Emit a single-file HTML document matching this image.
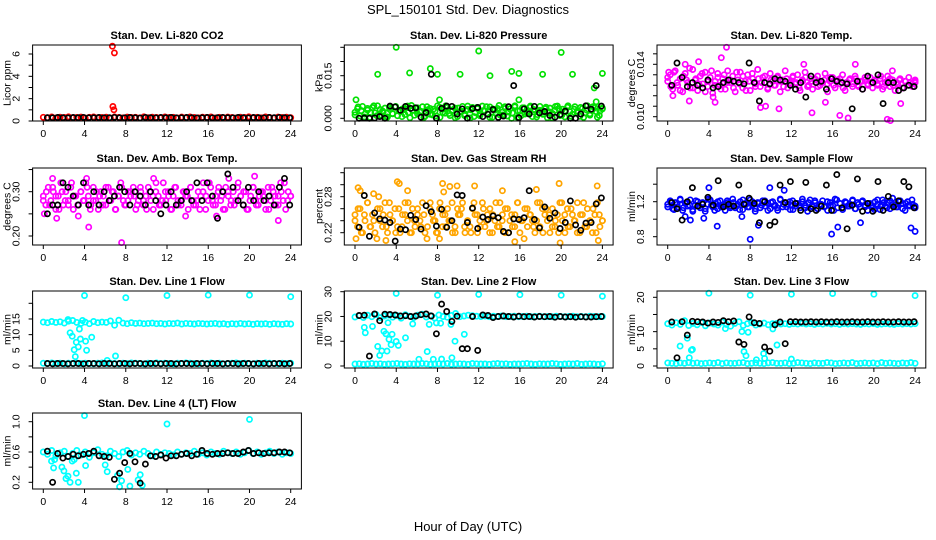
<!DOCTYPE html>
<html><head><meta charset="utf-8">
<style>
html,body{margin:0;padding:0;background:#fff;}
svg{display:block;font-family:"Liberation Sans",Arial,sans-serif;}
</style></head>
<body>
<svg id="chart" width="936" height="540" viewBox="0 0 936 540">
<rect width="936" height="540" fill="#fff"/>
<text x="468" y="14" font-size="13" text-anchor="middle">SPL_150101  Std. Dev. Diagnostics</text>
<text x="468" y="531" font-size="13" text-anchor="middle">Hour of Day (UTC)</text>
</svg>
<script>
// ---- data ----
const co2Red=[.33,.30,.36,.28,.34,.31,.38,.29,.32,.35,.27,.33,.37,.30,.31,.34,.28,.36,.32,.29,.35,.31,.33,.27,.38,.30,.34,.32,.29,.36,.31,.33,.28,.35,.30,.37,.32,.29,.34,.31,.36,.28,.33,.30,.35,.32,.27,.34,.31,.38,.30,.33,.29,.36,.32,.28,.35,.31,.34,.30];
const co2OutT=[6.7,6.9,6.75,6.85];
const co2OutV=[6.7,6.1,1.3,1.0];
const co2Blk=[.30,.29,.31,.30,.28,.31,.30,.32,.29,.30,.31,.29,.30,.32,.30,.29,.31,.30,.28,.31,.30,.29,.32,.30,.31,.29,.30,.31,.30,.28,.30,.31,.29,.30,.32,.30,.29,.31,.30,.28,.31,.30,.29,.31,.30,.32,.30,.29];

const pressGreen=[.0021,.0034,.0008,.0042,.0015,.0029,.0003,.0038,.0019,.0044,.0011,.0026,.0036,.0005,.0031,.0017,.0040,.0009,.0024,.0033,.0013,.0043,.0002,.0028,.0037,.0016,.0022,.0041,.0007,.0030,.0035,.0012,.0025,.0044,.0004,.0032,.0018,.0039,.0010,.0027,.0036,.0006,.0023,.0042,.0014,.0031,.0001,.0038,.0020,.0034,.0009,.0043,.0026,.0016,.0040,.0004,.0029,.0035,.0012,.0022,.0041,.0008,.0033,.0019,.0044,.0003,.0027,.0037,.0015,.0024,.0039,.0006,.0030,.0013,.0042,.0021,.0034,.0002,.0036,.0017,.0028,.0043,.0010,.0032,.0005,.0039,.0023,.0014,.0041,.0026,.0007,.0035,.0019,.0044,.0011,.0030,.0038,.0004,.0025,.0033];
const pressGreen2=[.0012,.0040,.0027,.0005,.0035,.0019,.0044,.0009,.0031,.0023,.0001,.0038,.0016,.0042,.0028,.0006,.0034,.0020,.0045,.0011,.0037,.0025,.0003,.0041,.0014,.0032,.0008,.0039,.0021,.0044,.0017,.0029,.0002,.0036,.0024,.0010,.0043,.0030,.0006,.0038,.0015,.0027,.0041,.0004,.0033,.0019,.0045,.0012,.0035,.0022,.0000,.0040,.0026,.0009,.0037,.0018,.0043,.0031,.0005,.0028,.0014,.0039,.0023,.0001,.0042,.0034,.0011,.0026,.0044,.0007,.0032,.0020,.0038,.0003,.0029,.0016,.0041,.0024,.0010,.0036];
const pressOutT=[0.1,2.2,4.0,5.3,7.3,8.0,8.2,10.2,12.0,13.1,15.2,15.9,15.9,18.2,20.0,21.1,23.2,24.0,23.4];
const pressOutV=[.0065,.0155,.0250,.0160,.0175,.0155,.0065,.0155,.0237,.0150,.0165,.0158,.0065,.0155,.0232,.0155,.0107,.0158,.0058];
const pressBlk=[.0000,.0001,.0000,.0001,.0006,.0000,.0043,.0040,.0028,.0042,.0035,.0037,.0004,.0020,.0155,.0000,.0035,.0043,.0042,.0015,.0033,.0000,.0034,.0038,.0006,.0014,.0031,.0003,.0008,.0041,.0115,.0002,.0033,.0015,.0042,.0019,.0024,.0010,.0004,.0013,.0025,.0000,.0000,.0015,.0044,.0032,.0115,.0043];

const tempMag=[.0127,.0132,.0121,.0135,.0124,.0129,.0119,.0133,.0126,.0122,.0136,.0128,.0120,.0131,.0125,.0134,.0123,.0130,.0118,.0127,.0133,.0124,.0129,.0121,.0135,.0126,.0131,.0119,.0128,.0134,.0122,.0127,.0132,.0120,.0129,.0125,.0136,.0123,.0130,.0126,.0121,.0133,.0127,.0124,.0131,.0119,.0128,.0135,.0122,.0126,.0130,.0125,.0132,.0120,.0127,.0134,.0123,.0129,.0121,.0128,.0131,.0124,.0126,.0133,.0119,.0127,.0130,.0122,.0128,.0125,.0132,.0120,.0126,.0129,.0123,.0131,.0124,.0127,.0121,.0128,.0125,.0130,.0122,.0127,.0124,.0129,.0121,.0126,.0131,.0123,.0128,.0120,.0125,.0129,.0122,.0127,.0124,.0126,.0123,.0128];
const tempMag2=[.0130,.0123,.0134,.0126,.0120,.0131,.0128,.0137,.0122,.0129,.0125,.0133,.0119,.0127,.0135,.0124,.0130,.0121,.0132,.0126,.0128,.0122,.0134,.0125,.0131,.0120,.0127,.0133,.0123,.0129,.0126,.0131,.0122,.0128,.0124,.0130,.0127,.0123,.0129,.0125,.0131,.0126,.0122,.0128,.0130,.0124,.0127,.0129,.0123,.0126,.0128,.0125,.0130,.0124,.0127,.0129,.0122,.0126,.0128,.0125,.0129,.0123,.0127,.0130,.0124,.0126,.0128,.0125,.0131,.0123,.0127,.0129,.0124,.0126,.0128,.0122,.0127,.0130,.0125,.0126];
const tempOutT=[0.1,0.5,1.7,2.1,3.0,4.4,4.6,5.2,5.7,9.0,9.5,10.8,13.2,14.0,15.3,16.7,17.5,18.2,21.3,21.6,22.6,21.8,24.0];
const tempOutV=[.0134,.0116,.0140,.0112,.0142,.0115,.0111,.0145,.0153,.0107,.0108,.0106,.0140,.0103,.0111,.0101,.0099,.0140,.0098,.0097,.0110,.0135,.0127];
const tempBlk=[.0124,.0141,.0130,.0123,.0126,.0124,.0122,.0128,.0122,.0123,.0126,.0128,.0127,.0126,.0125,.0141,.0126,.0112,.0126,.0125,.0129,.0128,.0127,.0124,.0121,.0126,.0115,.0131,.0126,.0127,.0121,.0129,.0127,.0126,.0125,.0106,.0127,.0121,.0131,.0126,.0132,.0110,.0126,.0126,.0120,.0122,.0124,.0123];

const ambMag=[.29,.27,.31,.28,.30,.26,.29,.32,.27,.30,.28,.31,.26,.29,.27,.30,.28,.32,.29,.27,.31,.28,.26,.30,.29,.27,.31,.28,.30,.26,.29,.32,.28,.27,.30,.29,.31,.26,.28,.30,.27,.29,.31,.28,.26,.30,.29,.27,.32,.28,.30,.26,.29,.31,.27,.28,.30,.29,.26,.31,.28,.27,.30,.29,.32,.26,.28,.31,.27,.29,.30,.28,.26,.31,.29,.27,.30,.28,.32,.29,.27,.30,.26,.29,.31,.28,.27,.30,.29,.26,.31,.28,.30,.27,.29,.32,.28,.26,.30,.29];
const ambMag2=[.28,.30,.27,.31,.29,.26,.30,.28,.27,.32,.29,.27,.30,.28,.31,.26,.28,.30,.29,.27,.31,.28,.30,.26,.29,.31,.27,.28,.30,.29,.27,.31,.28,.26,.30,.29,.32,.27,.28,.30,.29,.26,.31,.28,.27,.30,.29,.31,.27,.28,.26,.30,.29,.32,.28,.27,.31,.29,.26,.30,.28,.27,.31,.29,.30,.26,.28,.31,.27,.29,.30,.28,.26,.31,.29,.27,.30,.32,.28,.29];
const ambOutT=[0.1,0.9,1.3,3.4,4.4,7.6,13.8,16.8,20.5,22.8,4.2,10.7,18.0];
const ambOutV=[.25,.33,.24,.245,.22,.185,.245,.245,.335,.235,.33,.33,.33];
const ambBlk=[.25,.27,.27,.32,.31,.29,.27,.32,.27,.30,.27,.30,.28,.29,.31,.30,.27,.30,.29,.27,.30,.28,.25,.27,.30,.27,.28,.30,.28,.32,.28,.32,.29,.24,.30,.34,.31,.28,.27,.31,.28,.30,.28,.29,.27,.31,.33,.27];

const rhOr=[.25,.23,.26,.22,.24,.27,.23,.25,.22,.26,.24,.23,.27,.22,.25,.24,.26,.23,.22,.25,.27,.24,.22,.26,.23,.25,.24,.27,.22,.23,.26,.25,.24,.22,.27,.23,.25,.26,.24,.22,.23,.26,.25,.27,.22,.24,.23,.26,.25,.22,.24,.27,.23,.25,.26,.22,.24,.23,.27,.25,.22,.26,.24,.23,.25,.27,.22,.24,.26,.23,.25,.24,.22,.27,.23,.26,.25,.24,.22,.26,.23,.25,.27,.24,.22,.26,.23,.25,.24,.27,.22,.25,.23,.26,.24,.22,.25,.27,.23,.24];
const rhOr2=[.24,.26,.22,.25,.27,.23,.24,.21,.26,.25,.23,.27,.24,.22,.26,.23,.25,.27,.22,.24,.26,.23,.25,.21,.27,.24,.22,.26,.25,.23,.24,.27,.22,.25,.26,.23,.24,.22,.27,.25,.23,.26,.24,.22,.25,.27,.23,.24,.26,.22,.25,.23,.27,.24,.21,.26,.25,.23,.24,.27,.22,.26,.25,.23,.24,.22,.27,.25,.23,.26,.24,.22,.25,.27,.23,.24,.26,.22,.25,.24];
const rhOutT=[0.3,0.5,1.8,2.3,4.1,4.3,5.1,8.5,8.6,9.2,9.9,11.6,14.3,17.6,19.8,23.5,0.1,3.0,8.2,15.5,19.9,23.6];
const rhOutV=[.295,.29,.285,.28,.305,.302,.29,.302,.288,.297,.298,.298,.29,.292,.302,.298,.21,.207,.21,.205,.203,.207];
const rhBlk=[.229,.282,.214,.253,.243,.241,.237,.206,.226,.225,.249,.242,.226,.265,.255,.231,.259,.229,.240,.283,.282,.237,.261,.227,.246,.242,.248,.245,.222,.220,.243,.242,.245,.290,.242,.228,.263,.244,.253,.227,.237,.273,.233,.224,.236,.237,.268,.278];

const flowBlue=[1.17,1.21,1.12,1.19,1.14,1.23,1.10,1.18,1.15,1.22,1.11,1.16,1.20,1.13,1.19,1.09,1.17,1.22,1.14,1.18,1.12,1.21,1.16,1.10,1.19,1.15,1.23,1.13,1.17,1.20,1.11,1.18,1.14,1.22,1.16,1.09,1.19,1.13,1.21,1.15,1.18,1.12,1.20,1.16,1.10,1.23,1.14,1.19,1.17,1.11,1.21,1.15,1.18,1.13,1.20,1.16,1.09,1.22,1.14,1.19,1.12,1.17,1.21,1.15,1.10,1.19,1.16,1.23,1.13,1.18,1.11,1.20,1.15,1.17,1.22,1.12,1.19,1.14,1.21,1.16,1.10,1.18,1.13,1.20,1.17,1.11,1.22,1.15,1.19,1.12,1.24,1.16,1.14,1.21,1.18,1.10,1.20,1.15,1.17,1.13];
const flowBlue2=[1.14,1.20,1.11,1.17,1.22,1.13,1.19,1.16,1.09,1.21,1.15,1.18,1.12,1.23,1.16,1.10,1.20,1.14,1.17,1.21,1.13,1.19,1.15,1.11,1.22,1.17,1.14,1.20,1.12,1.18,1.16,1.21,1.10,1.19,1.15,1.13,1.22,1.17,1.14,1.20,1.11,1.18,1.16,1.23,1.13,1.19,1.15,1.21,1.12,1.17,1.14,1.20,1.16,1.10,1.22,1.18,1.13,1.19,1.15,1.21,1.12,1.17,1.20,1.14,1.18,1.16,1.11,1.22,1.15,1.19,1.13,1.21,1.17,1.14,1.20,1.12,1.18,1.16,1.22,1.15];
const flowOutT=[4.0,4.8,8.0,8.8,15.9,16.5,18.7,23.6,24.0,11.3,9.9,1.7,2.2,7.2,3.5];
const flowOutV=[1.36,.92,.77,.93,.83,.91,.96,.90,.86,1.33,1.36,1.03,.99,1.03,1.01];
const flowBlk=[1.19,1.12,.99,1.20,1.36,1.15,1.17,1.25,1.16,1.44,1.14,1.17,1.15,1.39,1.17,1.24,1.18,.96,1.20,.93,.97,1.39,1.19,1.43,1.18,1.10,1.42,1.12,1.10,1.15,1.39,1.10,1.51,1.13,.89,1.16,1.46,1.09,1.18,1.09,1.43,1.10,1.26,1.14,1.21,1.43,1.37,1.13];

const l1Main=[14.0,13.8,14.2,13.9,14.1,13.7,14.3,14.5,13.9,13.6,14.0,13.5,14.2,13.8,14.0,13.9,14.4,13.0,14.6,13.7,13.5,13.8,13.6,13.7,13.5,13.6,13.7,13.5,13.6,13.4,13.6,13.5,13.7,13.4,13.6,13.5,13.4,13.6,13.5,13.4,13.5,13.6,13.4,13.5,13.3,13.5,13.4,13.6,13.4,13.5,13.3,13.5,13.4,13.5,13.3,13.5,13.4,13.3,13.5,13.4];
const l1Low=[0.9,0.8,1.0,0.8,0.9,0.7,0.9,0.8,1.0,0.8,0.9,0.8,0.7,0.9,1.0,0.8,0.9,0.8,0.7,0.9,0.8,1.0,0.9,0.8,0.7,0.9,0.8,1.0,0.8,0.9,0.8,0.7,0.9,0.8,1.0,0.9,0.8,0.7,0.9,0.8,1.0,0.8,0.9,0.7,0.8,0.9,1.0,0.8,0.9,0.8,0.7,0.9,0.8,1.0,0.9,0.8,0.7,0.9,0.8,0.9];
const l1OutT=[4,8,12,16,20,24,2.6,2.8,3.0,3.1,3.2,3.4,3.5,3.6,4.1,4.2,4.7,6.2,7.0,2.4,3.8];
const l1OutV=[22.5,21.8,22.5,22.6,22.6,22.1,10.6,9.5,5.2,3.0,7.6,6.1,11.8,8.6,7.9,5.0,9.2,1.8,3.2,14.8,14.5];
const l1Blk=[0.8,0.7,0.8,0.8,0.7,0.8,0.8,0.7,0.8,0.8,0.7,0.8,0.8,0.7,0.8,0.8,0.7,0.8,0.8,0.7,0.8,0.8,0.7,0.8,0.8,0.7,0.8,0.8,0.7,0.8,0.8,0.7,0.8,0.8,0.7,0.8,0.8,0.7,0.8,0.8,0.7,0.8,0.8,0.7,0.8,0.8,0.7,0.8];

const l2Main=[19.8,20.3,19.6,20.5,19.9,20.8,19.5,20.2,20.6,19.7,20.4,19.3,20.7,20.1,19.6,20.5,20.9,19.8,20.3,19.4,20.6,20.0,19.7,20.4,21.2,19.9,20.2,20.5,20.3,20.1,20.0,20.2,19.9,20.1,20.0,20.2,19.9,20.0,20.1,19.9,20.0,20.1,19.9,20.0,20.1,19.9,20.0,19.9,20.1,20.0,19.9,20.0,20.1,19.9,20.0,19.9,20.1,20.0,19.9,20.0];
const l2Low=[0.8,0.9,0.7,0.8,1.0,0.8,0.9,0.7,0.8,0.9,1.0,0.8,0.7,0.9,0.8,0.8,1.0,0.9,0.7,0.8,0.9,0.8,1.0,0.7,0.8,0.9,0.8,0.7,1.0,0.9,0.8,0.8,0.7,0.9,1.0,0.8,0.9,0.7,0.8,0.8,0.9,1.0,0.8,0.7,0.9,0.8,0.8,1.0,0.9,0.7,0.8,0.9,0.8,1.0,0.7,0.8,0.9,0.8,0.7,0.9];
const l2OutT=[4,8,12,16,20,24,0.9,1.0,1.7,2.2,2.4,2.6,2.8,3.0,3.1,3.3,3.5,3.6,4.0,4.2,4.9,5.6,6.2,7.0,7.2,7.6,7.9,8.3,8.4,9.3,9.4,9.7,10.6,3.2];
const l2OutV=[29.3,28.6,28.9,28.8,28.6,28.2,15.6,13.4,16.0,7.9,4.3,6.1,14.0,13.0,6.0,10.8,8.6,12.8,9.9,8.3,11.4,17.0,2.7,5.8,16.8,2.7,17.4,17.3,2.8,16.8,3.3,10.0,12.8,17.5];
const l2Blk=[20.4,20.5,4.0,21.0,18.3,20.9,20.8,20.6,20.2,20.3,20.0,20.2,20.7,21.0,20.2,13.0,25.0,22.0,18.0,20.1,7.0,7.0,20.0,6.3,20.6,20.4,19.6,20.0,20.2,20.0,19.8,20.1,19.9,20.0,19.8,20.0,19.9,20.0,19.7,20.0,19.8,19.9,19.7,19.9,19.8,19.8,19.9,20.0];

const l3Main=[12.3,11.9,12.6,12.1,13.2,11.8,12.4,12.0,12.7,11.7,12.5,12.2,11.9,12.8,12.1,11.6,12.4,12.9,11.8,12.3,12.6,11.9,12.2,12.5,12.0,12.3,12.4,12.2,12.3,12.1,12.3,12.2,12.4,12.2,12.3,12.1,12.3,12.2,12.4,12.2,12.3,12.1,12.3,12.2,12.3,12.2,12.1,12.3,12.2,12.3,12.1,12.2,12.3,12.2,12.1,12.3,12.2,12.3,12.2,12.3];
const l3Low=[0.9,0.8,0.7,0.9,0.8,1.0,0.8,0.9,0.7,0.8,0.9,0.8,1.0,0.7,0.9,0.8,0.8,0.9,1.0,0.7,0.8,0.9,0.8,0.7,0.9,1.0,0.8,0.8,0.9,0.7,0.8,1.0,0.9,0.8,0.7,0.9,0.8,0.8,1.0,0.9,0.7,0.8,0.9,0.8,1.0,0.7,0.8,0.9,0.8,0.9,0.7,1.0,0.8,0.9,0.8,0.7,0.9,0.8,1.0,0.8];
const l3OutT=[4,8,12,16,20,24,1.2,1.9,2.1,2.3,2.4,5.6,7.2,7.4,7.6,7.8,8.6,9.3,9.4,10.2,10.6,12.0];
const l3OutV=[21.2,20.6,20.9,21.1,20.9,20.5,5.8,8.1,2.4,4.6,4.8,10.9,10.0,4.2,3.0,9.8,1.8,3.6,2.2,10.8,6.1,2.0];
const l3Blk=[12.8,2.4,12.9,9.0,13.0,12.9,12.8,12.5,12.8,12.7,13.2,12.9,13.1,7.0,6.3,14.3,12.6,12.4,5.5,4.3,12.0,12.8,6.5,12.9,12.9,12.8,12.8,12.9,12.8,12.9,12.8,12.8,12.9,12.8,12.8,12.9,12.8,12.8,12.9,12.8,12.8,12.9,12.8,12.8,12.9,12.8,12.8,12.9];

const l4Main=[.60,.57,.62,.55,.59,.61,.54,.58,.62,.56,.60,.53,.59,.63,.57,.55,.61,.58,.54,.60,.62,.56,.59,.57,.61,.58,.55,.60,.57,.59,.58,.56,.60,.57,.59,.58,.61,.57,.59,.56,.60,.58,.57,.61,.59,.58,.60,.57,.59,.62,.58,.60,.57,.59,.61,.58,.60,.57,.59,.58];
const l4OutT=[4.0,12.0,20.0,1.0,1.1,1.8,2.0,2.2,2.4,2.6,2.8,3.2,3.4,4.1,6.0,6.2,7.2,7.4,7.6,8.2,8.4,9.2,9.4,9.6,0.8,3.0];
const l4OutV=[1.08,0.97,1.03,.39,.50,.40,.35,.25,.28,.20,.48,.32,.20,.42,.43,.34,.29,.14,.22,.37,.15,.23,.30,.16,.48,.50];
const l4Blk=[.61,.20,.58,.52,.54,.57,.55,.57,.58,.61,.55,.54,.53,.24,.32,.46,.58,.47,.19,.44,.55,.54,.56,.52,.55,.55,.57,.58,.55,.57,.62,.58,.57,.58,.58,.59,.58,.58,.60,.62,.58,.59,.58,.59,.59,.60,.60,.59];

const xTicks=[0,4,8,12,16,20,24];

// ---- layout ----
const NS="http://www.w3.org/2000/svg";
const svg=document.getElementById('chart');
const colX0=[43.3,355,667.7], XW=247.4;
const rowBox=[[45,121],[168,245],[291,368],[413,489]];
function mk(tag,attrs,parent){const e=document.createElementNS(NS,tag);for(const k in attrs)e.setAttribute(k,attrs[k]);(parent||svg).appendChild(e);return e;}
function seriesIdx(vals){return vals.map((v,i)=>({t:i*24/(vals.length-1),v:v}));}
function seriesBlk(vals){return vals.map((v,i)=>({t:0.4+i*0.5,v:v}));}
function seriesXY(ts,vs){return ts.map((t,i)=>({t:t,v:vs[i]}));}

const panels=[
 {name:'co2',title:'Stan. Dev. Li-820 CO2',ylab:'Licor ppm',col:0,row:0,ya:[0,121,6,54],ticks:[0,1,2,3,4,5,6],labels:[[0,'0'],[2,'2'],[4,'4'],[6,'6']],
  series:[[seriesIdx(co2Red),'#ff0000'],[seriesXY(co2OutT,co2OutV),'#ff0000'],[seriesBlk(co2Blk),'#000']]},
 {name:'pressure',title:'Stan. Dev. Li-820 Pressure',ylab:'kPa',col:1,row:0,ya:[0,118.3,0.025,47.3],ticks:[0,.005,.01,.015,.02,.025],labels:[[0,'0.000'],[.015,'0.015']],
  series:[[seriesIdx(pressGreen),'#00e000'],[seriesIdx(pressGreen2),'#00e000'],[seriesXY(pressOutT,pressOutV),'#00e000'],[seriesBlk(pressBlk),'#000']]},
 {name:'li820-temp',title:'Stan. Dev. Li-820 Temp.',ylab:'degrees C',col:2,row:0,ya:[0.010,116.7,0.014,64.3],ticks:[.010,.0108,.0116,.0124,.0132,.014,.0148],labels:[[.010,'0.010'],[.014,'0.014']],
  series:[[seriesIdx(tempMag),'#ff00ff'],[seriesIdx(tempMag2),'#ff00ff'],[seriesXY(tempOutT,tempOutV),'#ff00ff'],[seriesBlk(tempBlk),'#000']]},
 {name:'amb-box-temp',title:'Stan. Dev. Amb. Box Temp.',ylab:'degrees C',col:0,row:1,ya:[.30,191.7,.20,236],ticks:[.20,.25,.30,.35],labels:[[.20,'0.20'],[.30,'0.30']],
  series:[[seriesIdx(ambMag),'#ff00ff'],[seriesIdx(ambMag2),'#ff00ff'],[seriesXY(ambOutT,ambOutV),'#ff00ff'],[seriesBlk(ambBlk),'#000']]},
 {name:'gas-stream-rh',title:'Stan. Dev. Gas Stream RH',ylab:'percent',col:1,row:1,ya:[.28,196.7,.22,232.7],ticks:[.22,.24,.26,.28,.30,.32],labels:[[.22,'0.22'],[.28,'0.28']],
  series:[[seriesIdx(rhOr),'#ffa500'],[seriesIdx(rhOr2),'#ffa500'],[seriesXY(rhOutT,rhOutV),'#ffa500'],[seriesBlk(rhBlk),'#000']]},
 {name:'sample-flow',title:'Stan. Dev. Sample Flow',ylab:'ml/min',col:2,row:1,ya:[1.2,201.7,0.8,236.7],ticks:[.8,1.0,1.2,1.4],labels:[[.8,'0.8'],[1.2,'1.2']],
  series:[[seriesIdx(flowBlue),'#0000ff'],[seriesIdx(flowBlue2),'#0000ff'],[seriesXY(flowOutT,flowOutV),'#0000ff'],[seriesBlk(flowBlk),'#000']]},
 {name:'line1-flow',title:'Stan. Dev. Line 1 Flow',ylab:'ml/min',col:0,row:2,ya:[0,366,20,303.3],ticks:[0,5,10,15,20],labels:[[0,'0'],[5,'5'],[10,'10'],[15,'15']],
  series:[[seriesIdx(l1Main),'#00ffff'],[seriesIdx(l1Low),'#00ffff'],[seriesXY(l1OutT,l1OutV),'#00ffff'],[seriesBlk(l1Blk),'#000']]},
 {name:'line2-flow',title:'Stan. Dev. Line 2 Flow',ylab:'ml/min',col:1,row:2,ya:[0,366,30,291.7],ticks:[0,10,20,30],labels:[[0,'0'],[10,'10'],[20,'20'],[30,'30']],
  series:[[seriesIdx(l2Main),'#00ffff'],[seriesIdx(l2Low),'#00ffff'],[seriesXY(l2OutT,l2OutV),'#00ffff'],[seriesBlk(l2Blk),'#000']]},
 {name:'line3-flow',title:'Stan. Dev. Line 3 Flow',ylab:'ml/min',col:2,row:2,ya:[0,366,20,297.3],ticks:[0,5,10,15,20],labels:[[0,'0'],[5,'5'],[10,'10'],[20,'20']],
  series:[[seriesIdx(l3Main),'#00ffff'],[seriesIdx(l3Low),'#00ffff'],[seriesXY(l3OutT,l3OutV),'#00ffff'],[seriesBlk(l3Blk),'#000']]},
 {name:'line4-flow',title:'Stan. Dev. Line 4 (LT) Flow',ylab:'ml/min',col:0,row:3,ya:[0.2,482.3,1.0,421.7],ticks:[.2,.4,.6,.8,1.0],labels:[[.2,'0.2'],[.6,'0.6'],[1.0,'1.0']],
  series:[[seriesIdx(l4Main),'#00ffff'],[seriesXY(l4OutT,l4OutV),'#00ffff'],[seriesBlk(l4Blk),'#000']]}
];

panels.forEach(p=>{
  const x0=colX0[p.col];
  const xs=t=>x0+t*XW/24;
  const [v0,p0,v1,p1]=p.ya;
  const ys=v=>p0+(v-v0)*(p1-p0)/(v1-v0);
  const [top,bot]=rowBox[p.row];
  const left=x0-10.7,right=x0+XW+10.7;
  const g=mk('g',{});
  
  
  const title=mk('text',{x:(left+right)/2,y:top-6,'font-size':'11','font-weight':'bold','text-anchor':'middle'},g);
  title.textContent=p.title;
  
  
  const marks=mk('g',{fill:'none','stroke-width':'1.7'},g);
  
  
  p.series.forEach(([pts,color])=>{
    pts.forEach(d=>{
      const c=mk('circle',{cx:xs(d.t).toFixed(1),cy:ys(d.v).toFixed(1),r:'2.6',stroke:color},marks);
      
      
    });
  });
  const box=mk('rect',{x:left,y:top,width:right-left,height:bot-top,fill:'none',stroke:'#000','stroke-width':'1'},g);
  
  
  const xa=mk('g',{stroke:'#000','stroke-width':'1'},g);
  
  
  mk('line',{x1:xs(0),x2:xs(24),y1:bot,y2:bot},xa);
  xTicks.forEach(t=>{
    mk('line',{x1:xs(t),x2:xs(t),y1:bot,y2:bot+4},xa);
    const tx=mk('text',{x:xs(t),y:bot+16,'font-size':'10.5','text-anchor':'middle',stroke:'none',fill:'#000'},xa);
    tx.textContent=t;
    
    
  });
  const ya=mk('g',{stroke:'#000','stroke-width':'1'},g);
  
  
  mk('line',{x1:left,x2:left,y1:ys(p.ticks[0]),y2:ys(p.ticks[p.ticks.length-1])},ya);
  p.ticks.forEach(v=>mk('line',{x1:left-4,x2:left,y1:ys(v),y2:ys(v)},ya));
  p.labels.forEach(([v,s])=>{
    const y=ys(v),x=left-13;
    const tx=mk('text',{x:x,y:y,'font-size':'10.5','text-anchor':'middle',stroke:'none',fill:'#000',transform:`rotate(-90 ${x} ${y})`},ya);
    tx.textContent=s;
    
    
  });
  const yl=(top+bot)/2,xl=left-22;
  const yt=mk('text',{x:xl,y:yl,'font-size':'10.5','text-anchor':'middle',transform:`rotate(-90 ${xl} ${yl})`},g);
  yt.textContent=p.ylab;
  
  
});
</script>
</body></html>
